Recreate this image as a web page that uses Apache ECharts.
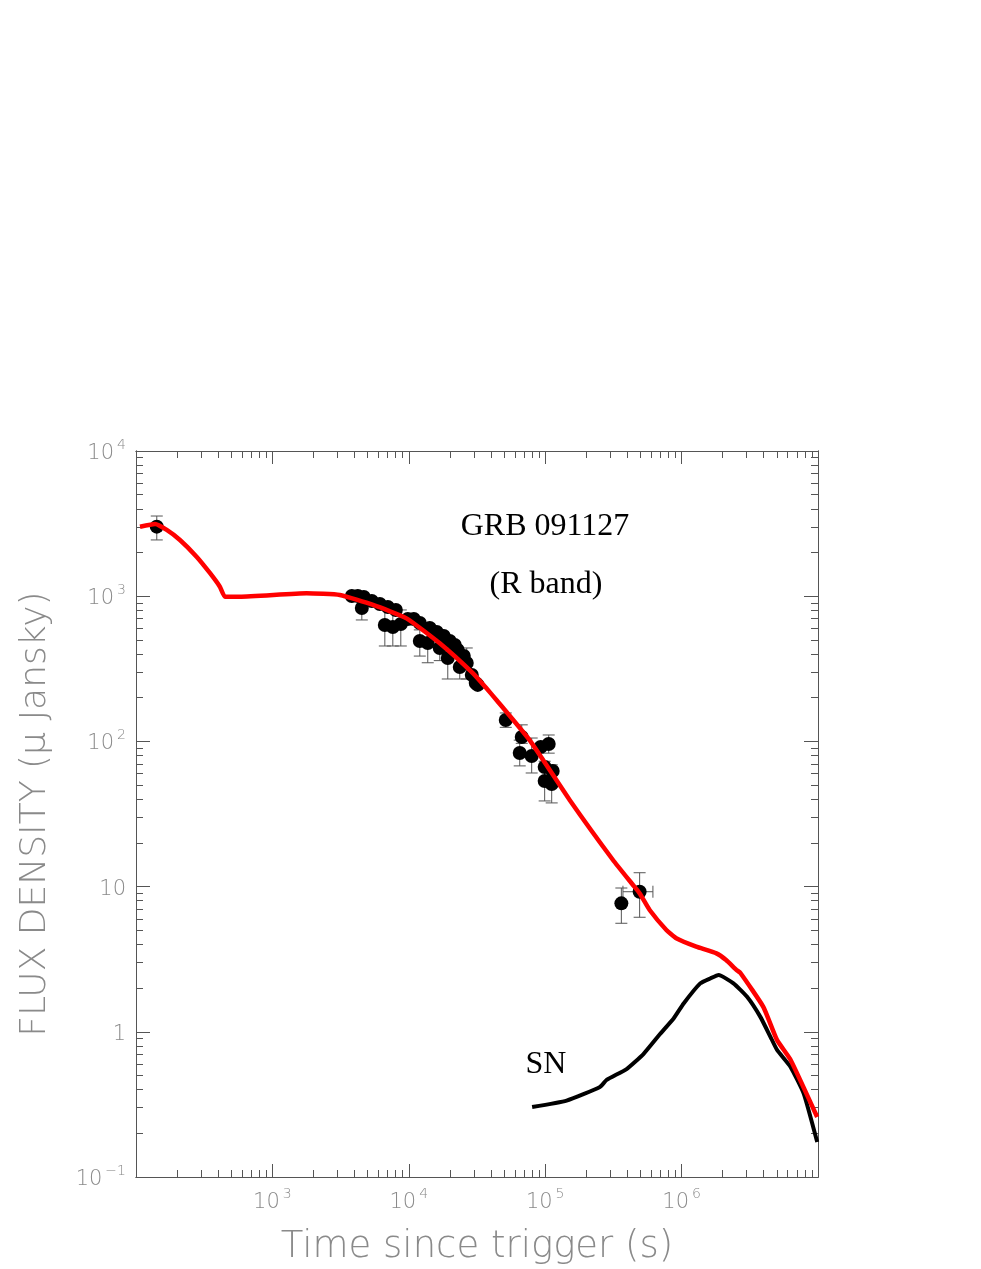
<!DOCTYPE html>
<html>
<head>
<meta charset="utf-8">
<script src="https://cdn.jsdelivr.net/npm/echarts@6/dist/echarts.min.js"></script>
<style>
  html, body { margin: 0; padding: 0; background: #fff; }
  #chart { width: 981px; height: 1269px; }
</style>
</head>
<body>
<div id="chart"></div>
<script>
// model light curve (red)
const RED_T = [107, 138, 168, 210, 278, 348, 412, 449, 578, 1780, 3120, 5474, 9620, 16870, 29600, 37100, 43900, 76900, 151100, 314000, 440000, 492000, 583000, 773000, 914000, 1.28e6, 1.80e6, 2.12e6, 2.52e6, 2.7e6, 3.98e6, 5.0e6, 6.3e6, 9.86e6];
const RED_F = [3010, 3142, 2858, 2438, 1871, 1445, 1162, 992, 992, 1047, 1019, 870, 704, 474, 294, 232, 193, 102, 39.5, 15.25, 10.26, 9.0, 6.90, 5.03, 4.41, 3.86, 3.47, 3.12, 2.67, 2.54, 1.48, 0.88, 0.64, 0.259];

// supernova component (black)
const SN_T = [80200, 143500, 252000, 282000, 395000, 525000, 695000, 874000, 1.035e6, 1.37e6, 1.62e6, 1.87e6, 2.40e6, 3.02e6, 3.78e6, 4.49e6, 5.01e6, 6.29e6, 7.87e6, 9.87e6];
const SN_F = [0.303, 0.336, 0.417, 0.466, 0.554, 0.703, 0.966, 1.235, 1.567, 2.154, 2.33, 2.46, 2.154, 1.742, 1.267, 0.920, 0.750, 0.573, 0.374, 0.174];

// observed R band points; 0 = no visible error bar
const OBS_T = [142,
  3823, 4230, 4680, 4525, 5357, 6133, 7018, 8035, 6672, 7636, 8738, 9835, 10880, 12040, 12040, 13770, 14250, 16030, 16870, 18040, 19310, 19970, 21730, 23640, 22850, 25300, 26600, 28960, 30970, 32000,
  51400, 67300, 65050, 79600, 92700, 106100, 99100, 113500, 99100, 111600,
  361700, 492400];
const OBS_F = [3013,
  1003, 1003, 988, 829, 927, 884, 843, 804, 633, 614, 643, 697, 697, 654, 491, 476, 604, 567, 440, 532, 375, 491, 461, 325, 426, 387, 347, 287, 252, 245,
  140.4, 107.2, 83.2, 79.3, 91.5, 95.9, 66.6, 62.5, 53.4, 50.9,
  7.67, 9.22];
const OBS_LO = [2440,
  0, 0, 0, 686, 0, 0, 0, 0, 454, 454, 454, 0, 0, 0, 387, 348, 0, 0, 360, 0, 269, 0, 0, 269, 0, 0, 269, 0, 0, 0,
  125, 97, 67.8, 60.6, 0, 83, 0, 0, 38.9, 37.7,
  5.59, 6.15];
const OBS_HI = [3566,
  0, 0, 0, 1000, 0, 0, 0, 0, 880, 830, 804, 0, 0, 0, 586, 650, 0, 0, 540, 0, 520, 0, 0, 390, 0, 0, 440, 0, 0, 0,
  157, 130, 102, 105.5, 0, 110.7, 0, 0, 73, 69,
  9.78, 12.46];
const OBS_TLO = [0, 0,0,0,0,0,0,0,0,0,0,0,0,0,0,0,0,0,0,0,0,0,0,0,0,0,0,0,0,0,0, 0,0,0,0,0,0,0,0,0,0, 0, 371500];
const OBS_THI = [0, 0,0,0,0,0,0,0,0,0,0,0,0,0,0,0,0,0,0,0,0,0,0,0,0,0,0,0,0,0,0, 0,0,0,0,0,0,0,0,0,0, 0, 616200];

// axes
const X_MIN = 100, X_MAX = 1e7;
const Y_MIN = 0.1, Y_MAX = 1e4;
const X_MAJOR = [1e2, 1e3, 1e4, 1e5, 1e6, 1e7];
const X_LABELS = [1e3, 1e4, 1e5, 1e6];
const Y_MAJOR = [0.1, 1, 10, 100, 1e3, 1e4];
const Y_LABELS = [0.1, 1, 10, 100, 1e3, 1e4];

function minorTicks(majors) {
  const out = [];
  for (let i = 0; i < majors.length - 1; i++) {
    for (let k = 2; k <= 9; k++) out.push(+(majors[i] * k).toPrecision(3));
  }
  return out;
}
const X_MINOR = minorTicks(X_MAJOR);
const Y_MINOR = minorTicks(Y_MAJOR);

const AXIS_COLOR = '#555';
const LABEL_COLOR = '#8a8a8a';
const THIN = "'DejaVu Sans', sans-serif";
const SERIF = "'Liberation Serif', 'Times New Roman', serif";

function powLabel(v) {
  const e = Math.round(Math.log10(v));
  if (e === 1) return '{b|10}';
  if (e === 0) return '{b|1}';
  return '{b|10}{s|' + (e < 0 ? '\u2212' + (-e) : e) + '}';
}
const labelRich = {
  b: { fontSize: 21, fontFamily: THIN, fontWeight: 200, color: LABEL_COLOR, lineHeight: 26, verticalAlign: 'bottom' },
  s: { fontSize: 14, fontFamily: THIN, fontWeight: 200, color: LABEL_COLOR, lineHeight: 26, verticalAlign: 'top', padding: [0, 0, 0, 3] }
};

function makeAxis(pos, min, max, ticks, len, labels, extra) {
  const ax = {
    type: 'log', logBase: 10, min: min, max: max, position: pos,
    splitLine: { show: false },
    axisLine: { show: true, onZero: false, lineStyle: { color: AXIS_COLOR, width: 1 } },
    axisTick: { show: true, inside: true, length: len, customValues: ticks, lineStyle: { color: AXIS_COLOR, width: 1 } },
    axisLabel: labels ? {
      show: true, customValues: labels, formatter: powLabel, rich: labelRich, margin: 10
    } : { show: false }
  };
  return Object.assign(ax, extra || {});
}

const chart = echarts.init(document.getElementById('chart'));

const obsData = OBS_T.map((t, i) => [t, OBS_F[i], OBS_LO[i], OBS_HI[i], OBS_TLO[i], OBS_THI[i]]);

const option = {
  backgroundColor: '#fff',
  animation: false,
  grid: { left: 136, right: 163, top: 451, bottom: 92, containLabel: false, outerBoundsMode: 'none' },
  xAxis: [
    makeAxis('bottom', X_MIN, X_MAX, X_MAJOR, 13, X_LABELS, {
      name: 'Time since trigger (s)', nameLocation: 'middle', nameGap: 52,
      nameTextStyle: { fontSize: 37, fontFamily: THIN, fontWeight: 200, color: LABEL_COLOR }
    }),
    makeAxis('bottom', X_MIN, X_MAX, X_MINOR, 7, null),
    makeAxis('top', X_MIN, X_MAX, X_MAJOR, 13, null),
    makeAxis('top', X_MIN, X_MAX, X_MINOR, 7, null)
  ],
  yAxis: [
    makeAxis('left', Y_MIN, Y_MAX, Y_MAJOR, 14, Y_LABELS, {
      name: 'FLUX DENSITY (\u03bc Jansky)', nameLocation: 'middle', nameGap: 82,
      nameTextStyle: { fontSize: 36, fontFamily: THIN, fontWeight: 200, color: LABEL_COLOR }
    }),
    makeAxis('left', Y_MIN, Y_MAX, Y_MINOR, 7, null),
    makeAxis('right', Y_MIN, Y_MAX, Y_MAJOR, 14, null),
    makeAxis('right', Y_MIN, Y_MAX, Y_MINOR, 7, null)
  ],
  graphic: [
    { type: 'text', x: 545, y: 527, style: { text: 'GRB 091127', align: 'center', verticalAlign: 'middle', font: '32px ' + SERIF, fill: '#000' } },
    { type: 'text', x: 546, y: 585, style: { text: '(R band)', align: 'center', verticalAlign: 'middle', font: '32px ' + SERIF, fill: '#000' } },
    { type: 'text', x: 546, y: 1065, style: { text: 'SN', align: 'center', verticalAlign: 'middle', font: '32px ' + SERIF, fill: '#000' } }
  ],
  series: [
    {
      name: 'errors', type: 'custom', z: 2,
      encode: { x: 0, y: 1 },
      data: obsData,
      renderItem: function (params, api) {
        const x = api.value(0), y = api.value(1);
        const lo = api.value(2), hi = api.value(3), xl = api.value(4), xh = api.value(5);
        const st = { stroke: '#555', lineWidth: 1, fill: null };
        const kids = [];
        const cap = 6;
        if (lo > 0 && hi > 0) {
          const a = api.coord([x, hi]), b = api.coord([x, lo]);
          kids.push({ type: 'line', shape: { x1: a[0], y1: a[1], x2: b[0], y2: b[1] }, style: st });
          kids.push({ type: 'line', shape: { x1: a[0] - cap, y1: a[1], x2: a[0] + cap, y2: a[1] }, style: st });
          kids.push({ type: 'line', shape: { x1: b[0] - cap, y1: b[1], x2: b[0] + cap, y2: b[1] }, style: st });
        }
        if (xl > 0 && xh > 0) {
          const a = api.coord([xl, y]), b = api.coord([xh, y]);
          kids.push({ type: 'line', shape: { x1: a[0], y1: a[1], x2: b[0], y2: b[1] }, style: st });
          kids.push({ type: 'line', shape: { x1: a[0], y1: a[1] - cap, x2: a[0], y2: a[1] + cap }, style: st });
          kids.push({ type: 'line', shape: { x1: b[0], y1: b[1] - cap, x2: b[0], y2: b[1] + cap }, style: st });
        }
        return { type: 'group', children: kids };
      }
    },
    {
      name: 'R band', type: 'scatter', z: 3,
      symbol: 'circle', symbolSize: 14,
      itemStyle: { color: '#000', opacity: 1 },
      data: OBS_T.map((t, i) => [t, OBS_F[i]])
    },
    {
      name: 'SN', type: 'line', z: 4,
      showSymbol: false, smooth: 0.15,
      lineStyle: { color: '#000', width: 4 },
      data: SN_T.map((t, i) => [t, SN_F[i]])
    },
    {
      name: 'model', type: 'line', z: 5,
      showSymbol: false, smooth: 0.15,
      lineStyle: { color: '#ff0000', width: 4.5 },
      data: RED_T.map((t, i) => [t, RED_F[i]])
    }
  ]
};

option && chart.setOption(option);
</script>
</body>
</html>
